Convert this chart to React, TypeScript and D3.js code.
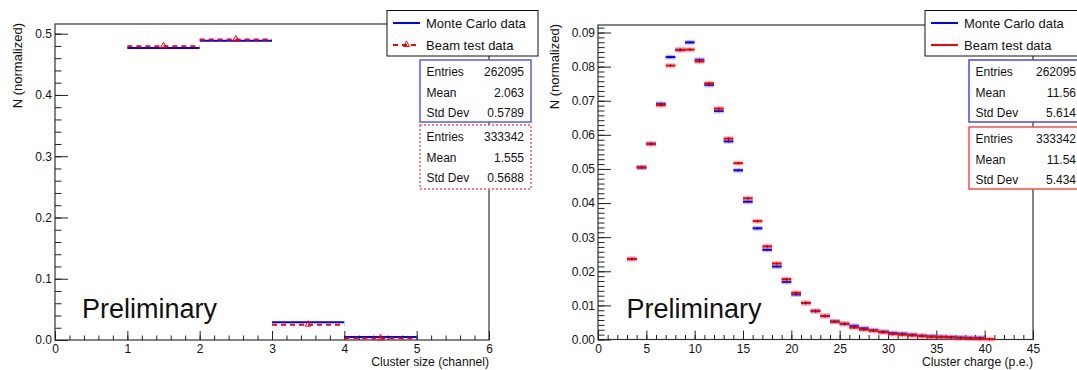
import * as d3 from "d3";
import { useEffect, useRef } from "react";

// cluster size histogram (bins of width 1, low edges)
const sizeBins = [1, 2, 3, 4];
const mcSize = [0.4768, 0.4883, 0.0289, 0.0049];
const beamSize = [0.4796, 0.4905, 0.025, 0.0027];

// cluster charge histogram (bins of 1 p.e., first low edge = 3)
const chargeStart = 3;
const mcCharge = [
    0.0236, 0.0504, 0.0574, 0.0691, 0.0828, 0.0849, 0.0871, 0.082, 0.0746, 0.067,
    0.0581, 0.0496, 0.0404, 0.0326, 0.0263, 0.0214, 0.0169, 0.0132, 0.0107, 0.0084,
    0.0069, 0.0053, 0.0046, 0.004, 0.0033, 0.0027, 0.0023, 0.0019, 0.0017, 0.0014,
    0.0011, 0.0009, 0.0008, 0.0007, 0.0006, 0.0005, 0.0005,
];
const beamCharge = [
    0.0236, 0.0505, 0.0573, 0.0687, 0.0803, 0.0849, 0.085, 0.0815, 0.0751, 0.0677,
    0.0589, 0.0517, 0.0414, 0.0347, 0.0273, 0.0223, 0.0177, 0.0137, 0.0107, 0.0083,
    0.0069, 0.0052, 0.0046, 0.0035, 0.0029, 0.0026, 0.0021, 0.0016, 0.0014, 0.0012,
    0.001, 0.0008, 0.0007, 0.0006, 0.0004, 0.0003, 0.0002, 0.0001,
];

const legendLabels = ["Monte Carlo data", "Beam test data"];
const statLabels = ["Entries", "Mean", "Std Dev"];
const sizeStatsMC = ["262095", "2.063", "0.5789"];
const sizeStatsBeam = ["333342", "1.555", "0.5688"];
const chargeStatsMC = ["262095", "11.56", "5.614"];
const chargeStatsBeam = ["333342", "11.54", "5.434"];

const BLUE = "#0000ff";
const RED = "#ff0000";
const FONT = "'Liberation Sans', Arial, Helvetica, sans-serif";

type G = d3.Selection<SVGGElement, unknown, null, undefined>;

function drawAxes(
    g: G,
    x: d3.ScaleLinear<number, number>,
    y: d3.ScaleLinear<number, number>,
    xMajor: number[],
    xMinor: number[],
    yMajor: number[],
    yMinor: number[],
    yFmt: (v: number) => string,
    xTitle: string,
    yTitleX: number
) {
    const [x0, x1] = x.range();
    const [yb, yt] = y.range();

    g.append("rect")
        .attr("x", x0).attr("y", yt)
        .attr("width", x1 - x0).attr("height", yb - yt)
        .attr("fill", "white").attr("stroke", "#333").attr("stroke-width", 1.2);

    const bottom = g.append("g").attr("transform", `translate(0,${yb})`);
    bottom.append("g").call(d3.axisBottom(x).tickValues(xMinor).tickSize(-4.5).tickFormat(() => ""));
    bottom.append("g").call(d3.axisBottom(x).tickValues(xMajor).tickSize(-9).tickPadding(4.5).tickFormat(d3.format("d")));

    const left = g.append("g").attr("transform", `translate(${x0},0)`);
    left.append("g").call(d3.axisLeft(y).tickValues(yMinor).tickSize(-6.5).tickFormat(() => ""));
    left.append("g").call(d3.axisLeft(y).tickValues(yMajor).tickSize(-13).tickPadding(3).tickFormat((d) => yFmt(+d)));

    g.selectAll(".domain").remove();
    g.selectAll(".tick line").attr("stroke", "#222");
    g.selectAll(".tick text").style("font-size", "12px").style("font-family", FONT).attr("fill", "#111");

    g.append("text")
        .attr("x", x1).attr("y", 366)
        .attr("text-anchor", "end")
        .style("font-size", "12.2px")
        .text(xTitle);

    g.append("text")
        .attr("transform", `translate(${yTitleX},${yt - 1}) rotate(-90)`)
        .attr("text-anchor", "end")
        .style("font-size", "13px")
        .text("N (normalized)");
}

function drawLegend(g: G, bx: number, bw: number, dashed: boolean) {
    g.append("rect")
        .attr("x", bx).attr("y", 10.5).attr("width", bw).attr("height", 45.5)
        .attr("fill", "white").attr("stroke", "#111").attr("stroke-width", 1);
    const sx = bx + 6;
    g.append("line")
        .attr("x1", sx).attr("x2", sx + 27).attr("y1", 23).attr("y2", 23)
        .attr("stroke", BLUE).attr("stroke-width", 2);
    const red = g.append("line")
        .attr("x1", sx).attr("x2", sx + 27).attr("y1", 45).attr("y2", 45)
        .attr("stroke", RED).attr("stroke-width", 2);
    if (dashed) {
        red.attr("stroke-dasharray", "5,4");
        const c = sx + 13.5;
        g.append("path")
            .attr("d", `M${c - 3},46.5 L${c + 3},46.5 L${c},41 Z`)
            .attr("fill", "none").attr("stroke", RED).attr("stroke-width", 1);
    }
    legendLabels.forEach((t, i) => {
        g.append("text")
            .attr("x", sx + 33).attr("y", i === 0 ? 27.8 : 50)
            .style("font-size", "13px")
            .text(t);
    });
}

function drawStats(
    g: G, bx: number, by: number, bw: number, bh: number,
    color: string, dashed: boolean, values: string[], valueX: number
) {
    g.append("rect")
        .attr("x", bx).attr("y", by).attr("width", bw).attr("height", bh)
        .attr("fill", "white").attr("stroke", color).attr("stroke-width", 1.5)
        .attr("stroke-dasharray", dashed ? "2,2" : null);
    statLabels.forEach((s, i) => {
        const yy = by + 16 + i * 20.6;
        g.append("text").attr("x", bx + 6.5).attr("y", yy).style("font-size", "12px").text(s);
        g.append("text").attr("x", valueX).attr("y", yy)
            .attr("text-anchor", "end").style("font-size", "12px").text(values[i]);
    });
}

const App = () => {
    const ref = useRef<SVGSVGElement>(null);

    useEffect(() => {
        if (!ref.current) return;
        const svg = d3.select(ref.current);
        svg.selectAll("*").remove();
        const root = svg.append("g")
            .style("font-family", FONT)
            .attr("fill", "#111") as G;

        // ---------- left: cluster size ----------
        const xL = d3.scaleLinear().domain([0, 6]).range([55, 489]);
        const yL = d3.scaleLinear().domain([0, 0.5158]).range([340, 24]);
        const left = root.append("g") as G;
        drawAxes(
            left, xL, yL,
            d3.range(0, 6.01, 1), d3.range(0, 6.01, 0.2),
            d3.range(0, 0.51, 0.1), d3.range(0, 0.515, 0.02),
            d3.format(".1f"), "Cluster size (channel)", 22
        );

        sizeBins.forEach((lo, i) => {
            left.append("line")
                .attr("x1", xL(lo)).attr("x2", xL(lo + 1))
                .attr("y1", yL(mcSize[i])).attr("y2", yL(mcSize[i]))
                .attr("stroke", BLUE).attr("stroke-width", 2);
        });
        sizeBins.forEach((lo, i) => {
            const yy = yL(beamSize[i]);
            left.append("line")
                .attr("x1", xL(lo)).attr("x2", xL(lo + 1))
                .attr("y1", yy).attr("y2", yy)
                .attr("stroke", RED).attr("stroke-width", 2)
                .attr("stroke-dasharray", "5,4");
            const c = xL(lo + 0.5);
            left.append("path")
                .attr("d", `M${c - 3},${yy + 1.5} L${c + 3},${yy + 1.5} L${c},${yy - 4} Z`)
                .attr("fill", "none").attr("stroke", RED).attr("stroke-width", 1);
        });

        left.append("text").attr("x", 82).attr("y", 318).style("font-size", "27px").text("Preliminary");
        drawLegend(left, 387, 151, true);
        drawStats(left, 420, 60, 111, 62, "#5a5aff", false, sizeStatsMC, 524);
        drawStats(left, 420, 125, 111, 64, "#ff5a5a", true, sizeStatsBeam, 524);

        // ---------- right: cluster charge ----------
        const xR = d3.scaleLinear().domain([0, 45]).range([598, 1033]);
        const yR = d3.scaleLinear().domain([0, 0.0922]).range([339.5, 25]);
        const right = root.append("g") as G;
        drawAxes(
            right, xR, yR,
            d3.range(0, 45.1, 5), d3.range(0, 45.1, 1),
            d3.range(0, 0.0901, 0.01), d3.range(0, 0.0921, 0.01 / 7),
            d3.format(".2f"), "Cluster charge (p.e.)", 559
        );

        const drawBars = (vals: number[], color: string, light: string) => {
            vals.forEach((v, i) => {
                const lo = chargeStart + i;
                const a = xR(lo), b = xR(lo + 1), yy = yR(v);
                right.append("rect")
                    .attr("x", a).attr("y", yy - 2.5).attr("width", b - a).attr("height", 5)
                    .attr("fill", light);
                right.append("line")
                    .attr("x1", a).attr("x2", b).attr("y1", yy).attr("y2", yy)
                    .attr("stroke", color).attr("stroke-width", 2);
                right.append("line")
                    .attr("x1", (a + b) / 2).attr("x2", (a + b) / 2)
                    .attr("y1", yy - 1.5).attr("y2", yy + 1.5)
                    .attr("stroke", "#400").attr("stroke-width", 1).attr("opacity", 0.6);
            });
        };
        drawBars(mcCharge, BLUE, "rgba(80,80,255,0.35)");
        drawBars(beamCharge, RED, "rgba(255,80,80,0.35)");

        right.append("text").attr("x", 626.5).attr("y", 318).style("font-size", "27px").text("Preliminary");
        drawLegend(right, 925, 160, false);
        drawStats(right, 969, 60, 120, 62, "#4646ff", false, chargeStatsMC, 1076);
        drawStats(right, 969, 127, 120, 62, "#ff4c4c", false, chargeStatsBeam, 1076);
    }, []);

    return (
        <svg
            ref={ref}
            width={1077}
            height={370}
            style={{ position: "absolute", left: 0, top: 0, background: "white" }}
        />
    );
};

export default App;
